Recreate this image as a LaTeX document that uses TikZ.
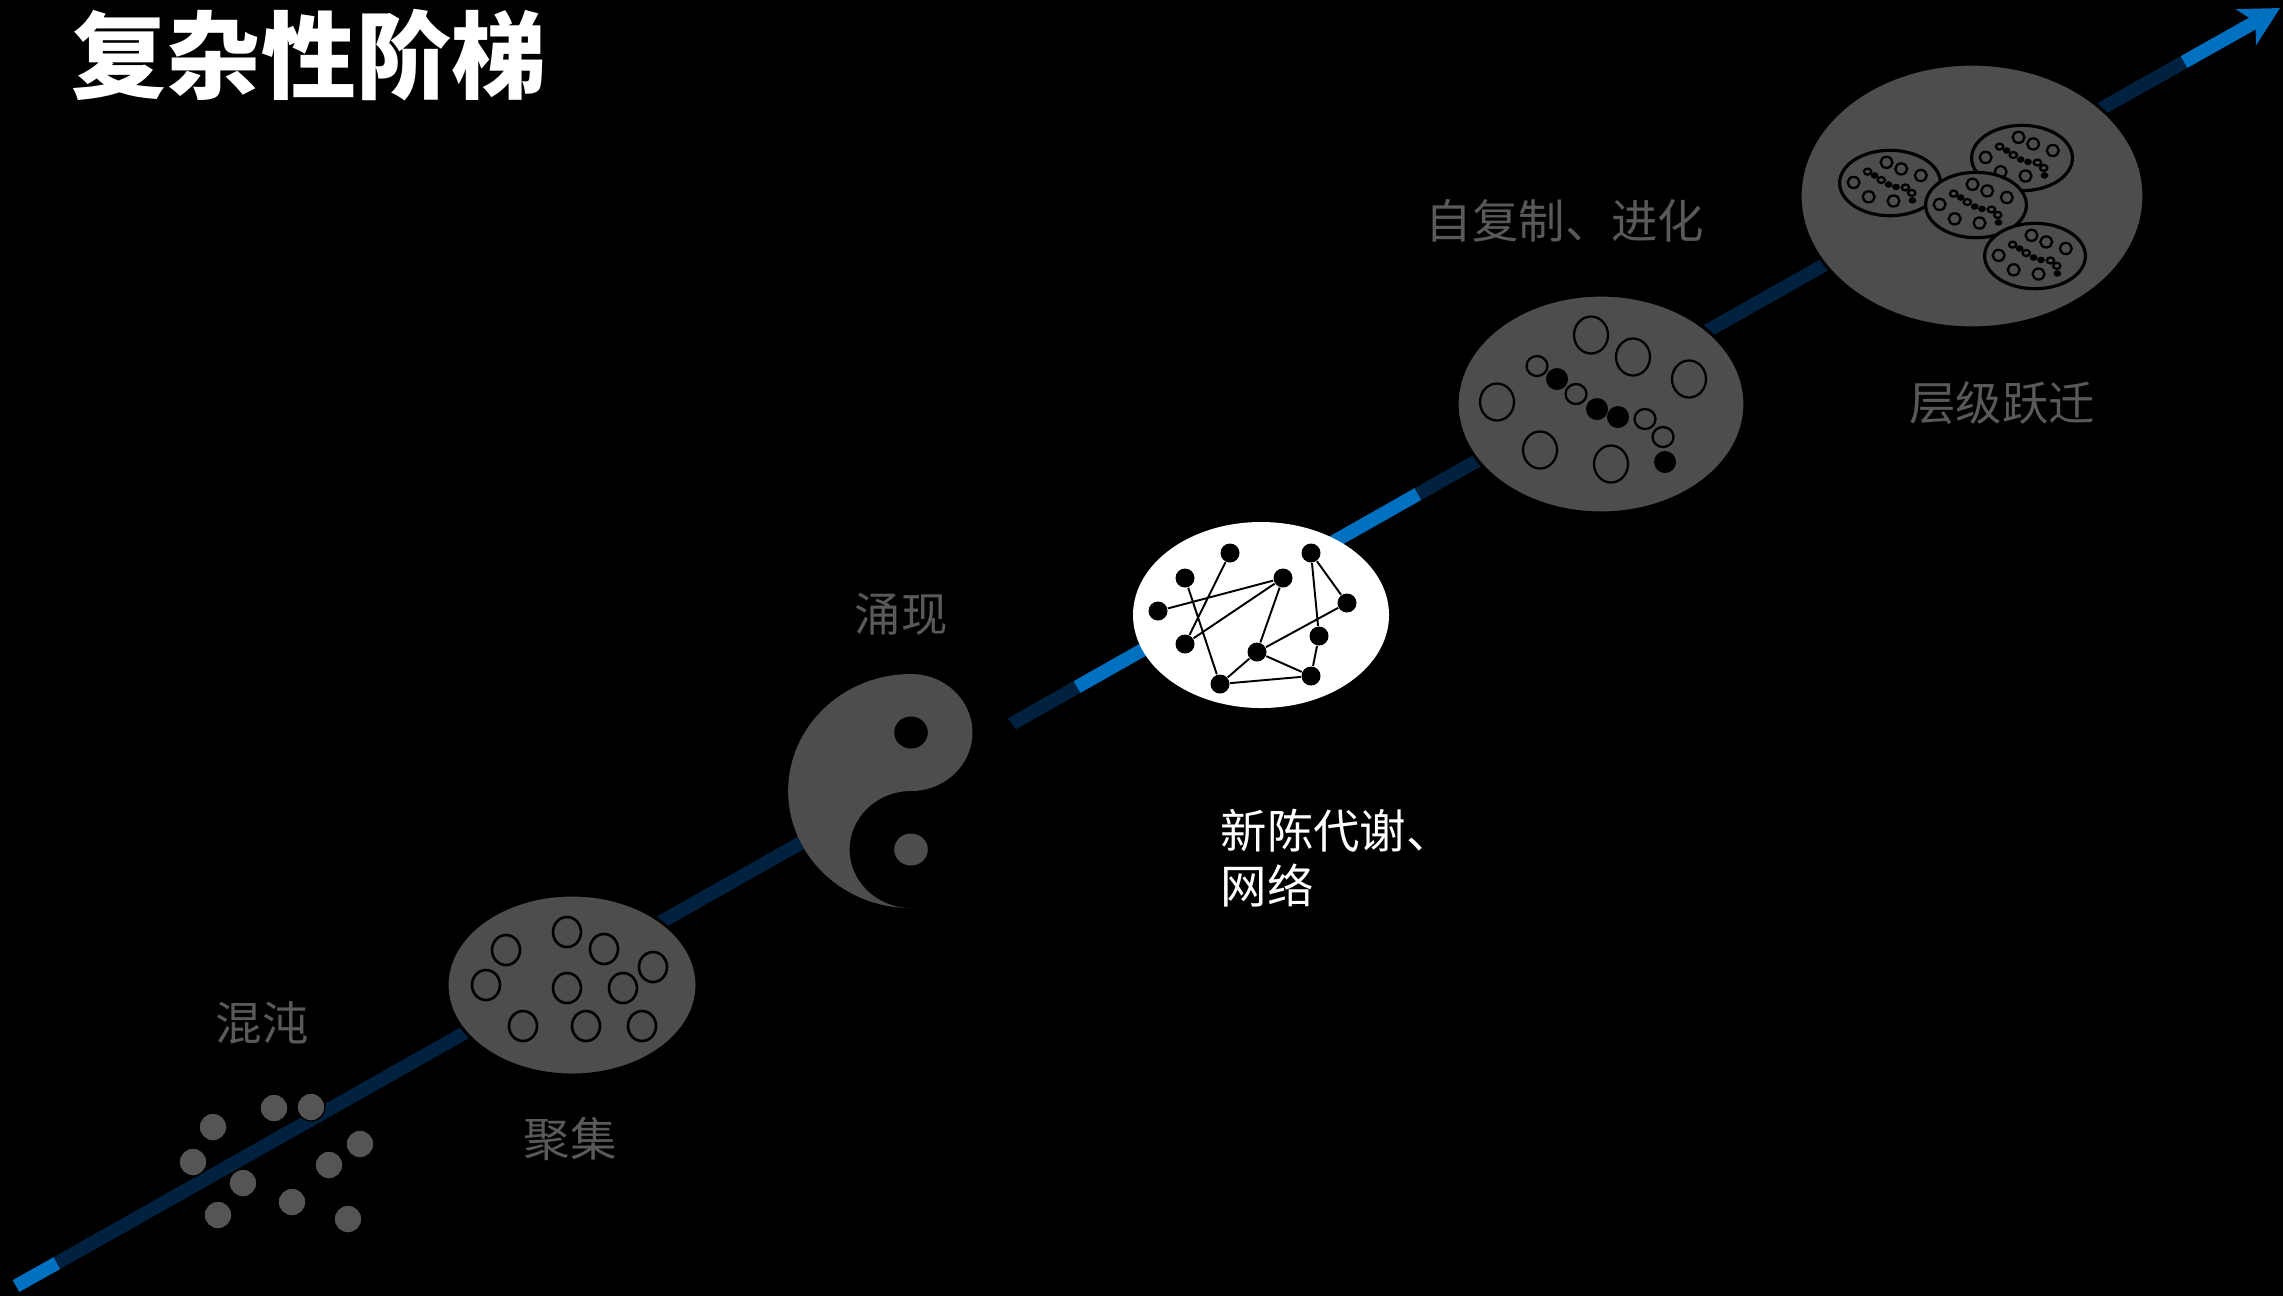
\documentclass[tikz,border=0pt]{standalone}
\usepackage{fontspec}
\usepackage{tikz}
\usetikzlibrary{arrows.meta}
\newfontfamily\cjk{Noto Sans CJK SC}

\definecolor{lineblue}{RGB}{0,112,192}
\definecolor{linedark}{RGB}{0,34,64}
\definecolor{cellgray}{RGB}{77,77,77}
\definecolor{dotgray}{RGB}{85,85,85}
\definecolor{textgray}{RGB}{89,89,89}

\tikzset{
  axisband/.style={line width=3.85pt},
  stagetext/.style={font=\cjk\fontsize{13.2}{15.6}\selectfont, text=textgray, inner sep=0pt},
  chaosdot/.style={fill=dotgray, draw=black, line width=0.4pt},
  ring/.style={draw=black, line width=0.65pt},
  netnode/.style={circle, fill=black, minimum size=5.4pt, inner sep=0pt},
  netedge/.style={line width=0.55pt},
  % 一个“自复制”细胞：外壳 + 内部小泡 + 一串小珠
  cell/.pic={
    \draw[fill=cellgray, line width=0.9pt] (0,0) ellipse [x radius=144, y radius=109];
    \foreach \dx/\dy in {-10/69, 32/47, 88/25, -104/2, -61/-46, 10/-60}
      \draw[ring] (\dx,\dy) ellipse [x radius=17, y radius=18.5];
    \foreach \dx/\dy in {-64/38, -25/10, 44/-15, 62/-33}
      \draw[ring] (\dx,\dy) ellipse [x radius=10.5, y radius=10];
    \foreach \dx/\dy in {-44/25, -4/-5, 17/-13, 64/-58}
      \fill[black] (\dx,\dy) ellipse [x radius=11, y radius=11];
  }
}

\begin{document}
\begin{tikzpicture}[x=0.01cm, y=0.01cm]
    % 0. 黑色背景
    \useasboundingbox (0,0) rectangle (2283,-1296);
    \fill[black] (0,0) rectangle (2283,-1296);

    % 1. 斜向上的主轴（深蓝为底，几段亮蓝）
    \coordinate (start) at (16,-1286);
    \coordinate (a) at (57,-1263);
    \coordinate (b) at (1077,-687);
    \coordinate (c) at (1418,-494);
    \coordinate (d) at (2184,-62);
    \coordinate (tip) at (2280,-8);
    \draw[axisband, lineblue] (start) -- (a);
    \draw[axisband, linedark] (a) -- (b);
    \draw[axisband, lineblue] (b) -- (c);
    \draw[axisband, linedark] (c) -- (d);
    \draw[axisband, lineblue, -{Stealth[length=11pt, width=11.5pt, inset=3pt]}] (d) -- (tip);

    % 2. 混沌：散落的灰点
    \foreach \px/\py in {213/1127, 274/1108, 311/1107, 193/1162, 243/1183,
                         360/1144, 329/1165, 218/1215, 292/1202, 348/1219}
      \draw[chaosdot] (\px,-\py) circle (14);

    % 3. 聚集：椭圆里的一群空心圆
    \draw[fill=cellgray, line width=0.85pt] (572,-985) ellipse [x radius=125, y radius=90];
    \foreach \px/\py in {567/932, 506/950, 604/949, 653/967, 486/985,
                         567/988, 623/988, 523/1026, 586/1026, 642/1026}
      \draw[ring, line width=0.75pt] (\px,-\py) ellipse [x radius=14, y radius=15];

    % 4. 涌现：太极
    \begin{scope}[shift={(911,-791)}, xscale=1.05]
      \fill[black] (0,0) circle (117);
      \fill[cellgray] (0,117) arc[start angle=90, end angle=270, radius=117]
        arc[start angle=270, end angle=90, radius=58.5]
        arc[start angle=-90, end angle=90, radius=58.5] -- cycle;
      \fill[black] (0,58.5) circle (16);
      \fill[cellgray] (0,-58.5) circle (16);
    \end{scope}

    % 5. 新陈代谢、网络：白底上的小网络
    \fill[white] (1261,-615) ellipse [x radius=128, y radius=93];
    \node[netnode] (na) at (1230,-553) {};
    \node[netnode] (nb) at (1185,-578) {};
    \node[netnode] (nc) at (1283,-578) {};
    \node[netnode] (nd) at (1311,-553) {};
    \node[netnode] (ne) at (1158,-611) {};
    \node[netnode] (nf) at (1347,-603) {};
    \node[netnode] (ng) at (1319,-636) {};
    \node[netnode] (nh) at (1185,-644) {};
    \node[netnode] (ni) at (1257,-652) {};
    \node[netnode] (nj) at (1311,-676) {};
    \node[netnode] (nk) at (1220,-684) {};
    \draw[netedge] (ne) -- (nc) (na) -- (nh) (nc) -- (nh) (nb) -- (nk)
                   (nc) -- (ni) (nd) -- (nf) (nd) -- (ng) (nf) -- (ni)
                   (ng) -- (nj) (ni) -- (nj) (ni) -- (nk) (nk) -- (nj);

    % 6. 自复制、进化
    \pic at (1601,-404) {cell};

    % 7. 层级跃迁：大椭圆里套四个缩小的细胞
    \draw[fill=cellgray, line width=0.9pt] (1972,-196) ellipse [x radius=172, y radius=132];
    \pic[xscale=0.35, yscale=0.3] at (1890,-183) {cell};
    \pic[xscale=0.35, yscale=0.3] at (2022,-158) {cell};
    \pic[xscale=0.35, yscale=0.3] at (1976,-205) {cell};
    \pic[xscale=0.35, yscale=0.3] at (2035,-256) {cell};

    % 8. 各阶段文字
    \node[stagetext] (chaos) at (262,-1023) {混沌};
    \node[stagetext] (gather) at (570,-1139) {聚集};
    \node[stagetext] (emerge) at (901,-614) {涌现};
    \node[stagetext, text=white, align=left, anchor=west] (metab) at (1220,-858) {新陈代谢、\\网络};
    \node[stagetext] (replic) at (1565,-221) {自复制、进化};
    \node[stagetext] (hier) at (2002,-403) {层级跃迁};

    % 9. 标题
    \node[font=\cjk\bfseries\fontsize{27}{32}\selectfont, text=white, inner sep=0pt]
      (title) at (309,-55) {复杂性阶梯};
\end{tikzpicture}
\end{document}
